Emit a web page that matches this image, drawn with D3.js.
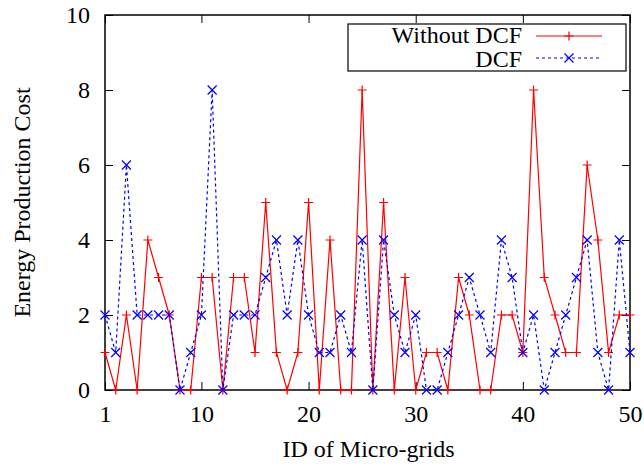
<!DOCTYPE html>
<html lang="en">
<head>
<meta charset="UTF-8">
<title>Energy Production Cost</title>
<script src="https://d3js.org/d3.v7.min.js"></script>
<style>
  body { margin: 0; background: #fff; }
  text { font-family: "Liberation Serif", "DejaVu Serif", serif; font-size: 24px; fill: #000; }
</style>
</head>
<body>
<div id="chart"></div>
<script>
// data
var ids = d3.range(1, 51);
var withoutDCF = [1,0,2,0,4,3,2,0,0,3, 3,0,3,3,1,5,1,0,1,5, 0,4,0,0,8,0,5,0,3,0,
                  1,1,0,3,2,0,0,2,2,1, 8,3,2,1,1,6,4,1,2,2];
var withDCF = [2,1,6,2,2,2,2,0,1,2, 8,0,2,2,2,3,4,2,4,2, 1,1,2,1,4,0,4,2,1,2,
               0,0,1,2,3,2,1,4,3,1, 2,0,1,2,3,4,1,0,4,1];
var xTicks = [1, 10, 20, 30, 40, 50];
var yTicks = [0, 2, 4, 6, 8, 10];

var W = 644, H = 468;
var margin = {top: 15, right: 14, bottom: 78, left: 105};
var width = W - margin.left - margin.right,
    height = H - margin.top - margin.bottom;

var svg = d3.select("#chart").append("svg")
    .attr("width", W).attr("height", H);
var g = svg.append("g")
    .attr("transform", "translate(" + margin.left + "," + margin.top + ")");

var x = d3.scaleLinear().domain([1, 50]).range([0, width]);
var y = d3.scaleLinear().domain([0, 10]).range([height, 0]);

// ticks pointing inward on all four sides (gnuplot style)
var tl = 8;
g.append("g").attr("transform", "translate(0," + height + ")")
  .call(d3.axisBottom(x).tickValues(xTicks).tickSize(-tl).tickPadding(15));
g.append("g")
  .call(d3.axisTop(x).tickValues(xTicks).tickSize(-tl).tickFormat(""));
g.append("g")
  .call(d3.axisLeft(y).tickValues(yTicks).tickSize(-tl).tickPadding(15));
g.append("g").attr("transform", "translate(" + width + ",0)")
  .call(d3.axisRight(y).tickValues(yTicks).tickSize(-tl).tickFormat(""));
g.selectAll(".domain").remove();
g.selectAll(".tick line").attr("stroke", "#000").attr("stroke-width", 1);
g.selectAll(".tick text").style("font-family", "Liberation Serif, serif").style("font-size", "24px");

g.append("rect").attr("width", width).attr("height", height)
  .attr("fill", "none").attr("stroke", "#000").attr("stroke-width", 1.5);

// axis titles
svg.append("text").attr("x", margin.left + width / 2 + 1).attr("y", 457)
  .attr("text-anchor", "middle").text("ID of Micro-grids");
svg.append("text").attr("transform", "translate(29.5," + (margin.top + height / 2) + ") rotate(-90)")
  .attr("text-anchor", "middle").text("Energy Production Cost");

var line = function (vals) {
  return d3.line().x(function (d, i) { return x(ids[i]); })
    .y(function (d) { return y(d); })(vals);
};

var ms = 4.5;
function plusPath(cx, cy) {
  return "M" + (cx - ms) + "," + cy + "H" + (cx + ms) + "M" + cx + "," + (cy - ms) + "V" + (cy + ms);
}
function crossPath(cx, cy) {
  return "M" + (cx - ms) + "," + (cy - ms) + "L" + (cx + ms) + "," + (cy + ms) +
         "M" + (cx - ms) + "," + (cy + ms) + "L" + (cx + ms) + "," + (cy - ms);
}

// Without DCF
g.append("path").attr("d", line(withoutDCF))
  .attr("fill", "none").attr("stroke", "#ff0000").attr("stroke-width", 1.2);
g.selectAll(".p1").data(withoutDCF).enter().append("path")
  .attr("d", function (d, i) { return plusPath(x(ids[i]), y(d)); })
  .attr("stroke", "#ff0000").attr("stroke-width", 1.2);

// DCF
g.append("path").attr("d", line(withDCF))
  .attr("fill", "none").attr("stroke", "#0000ff").attr("stroke-width", 1.2)
  .attr("stroke-dasharray", "3,3");
g.selectAll(".p2").data(withDCF).enter().append("path")
  .attr("d", function (d, i) { return crossPath(x(ids[i]), y(d)); })
  .attr("stroke", "#0000ff").attr("stroke-width", 1.2);

// legend
var lg = svg.append("g");
lg.append("rect").attr("x", 348).attr("y", 24).attr("width", 278).attr("height", 47)
  .attr("fill", "#fff").attr("stroke", "#000").attr("stroke-width", 1.2);
lg.append("text").attr("x", 522).attr("y", 43).attr("text-anchor", "end").text("Without DCF");
lg.append("text").attr("x", 522).attr("y", 67).attr("text-anchor", "end").text("DCF");
lg.append("line").attr("x1", 536).attr("x2", 602).attr("y1", 36).attr("y2", 36)
  .attr("stroke", "#ff0000").attr("stroke-width", 1.2);
lg.append("path").attr("d", plusPath(569, 36)).attr("stroke", "#ff0000").attr("stroke-width", 1.2);
lg.append("line").attr("x1", 536).attr("x2", 602).attr("y1", 58).attr("y2", 58)
  .attr("stroke", "#0000ff").attr("stroke-width", 1.2).attr("stroke-dasharray", "3,3");
lg.append("path").attr("d", crossPath(569, 58)).attr("stroke", "#0000ff").attr("stroke-width", 1.2);
</script>
</body>
</html>
